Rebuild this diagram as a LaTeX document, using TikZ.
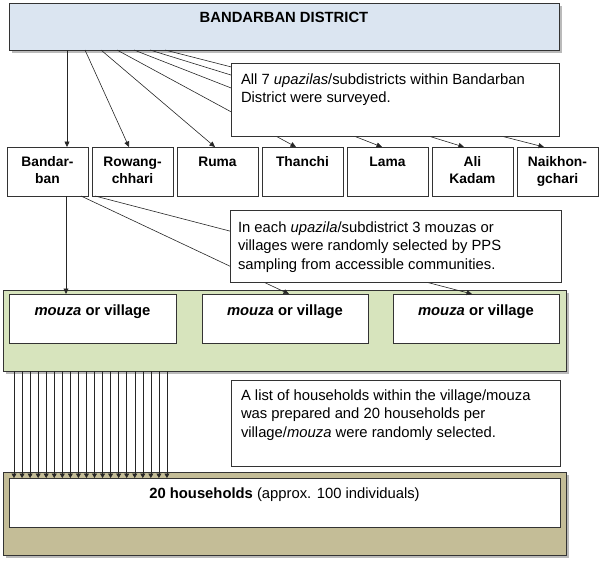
\documentclass[tikz,border=0pt]{standalone}
\usepackage{fontspec}
\setmainfont{Liberation Sans}
\usetikzlibrary{arrows.meta,calc,shadows}
\definecolor{topblue}{HTML}{DBE5F1}
\definecolor{bandgreen}{HTML}{D7E4BD}
\definecolor{bandtan}{HTML}{C4BD97}
\definecolor{edge}{HTML}{333333}
\begin{document}
\begin{tikzpicture}[x=1pt,y=-1pt,
  box/.style={draw=edge, line width=0.9pt, fill=white, anchor=north west, inner sep=0pt, outer sep=0pt},
  band/.style={box, drop shadow={shadow xshift=2.5pt, shadow yshift=-2.5pt, fill=black!45, opacity=0.6}},
  txt/.style={inner sep=0pt, outer sep=0pt, font=\fontsize{14.8}{18.8}\selectfont, align=left, anchor=base west},
  ctr/.style={inner sep=0pt, outer sep=0pt, font=\fontsize{14.8}{18.8}\selectfont, anchor=base},
  up/.style={inner sep=0pt, outer sep=0pt, font=\fontsize{13.8}{17}\selectfont\bfseries, align=center, anchor=base},
  arr/.style={draw=black!85, line width=0.6pt, -{Triangle[length=5.5pt,width=5pt]}},
]
\useasboundingbox (0,0) rectangle (600,560);

% district
\node[band, fill=topblue, minimum width=550pt, minimum height=47pt] (dist) at (9,3) {};
\node[ctr, font=\fontsize{14.8}{18.8}\selectfont\bfseries] (distT) at ($(dist.north)+(0,19.3)$) {BANDARBAN DISTRICT};

% upazilas
\foreach \n/\t/\k [count=\i from 0] in {u1/{Bandar-\\ban}/1, u2/{Rowang-\\chhari}/1, u3/{Ruma}/0, u4/{Thanchi}/0, u5/{Lama}/0, u6/{Ali\\Kadam}/1, u7/{Naikhon-\\gchari}/1} {
  \node[box, minimum width=81pt, minimum height=49pt] (\n) at (7+85*\i,147) {};
  \node[up] (\n t) at ($(\n.north)+(0,19+17*\k)$) {\t};
}

% arrows district -> upazilas
\draw[arr] ($(dist.south west)+(58,0)$) -- ($(u1.north west)+(60,0)$);
\draw[arr] ($(dist.south west)+(76,0)$) -- ($(u2.north west)+(37,0)$);
\draw[arr] ($(dist.south west)+(92,0)$) -- ($(u3.north west)+(38,0)$);
\draw[arr] ($(dist.south west)+(108,0)$) -- ($(u4.north west)+(34,0)$);
\draw[arr] ($(dist.south west)+(125,0)$) -- ($(u5.north west)+(35,0)$);
\draw[arr] ($(dist.south west)+(141,0)$) -- ($(u6.north west)+(32,0)$);
\draw[arr] ($(dist.south west)+(156,0)$) -- ($(u7.north west)+(27,0)$);

% note 1
\node[box, minimum width=328pt, minimum height=73pt] (n1) at (231,63) {};
\node[txt] (n1t) at ($(n1.north west)+(10,21+18.8)$) {All 7 \textit{upazilas}/subdistricts within Bandarban\\District were surveyed.};

% green band with mouzas
\node[band, fill=bandgreen, minimum width=563pt, minimum height=81pt] (green) at (3,290) {};
\node[box, minimum width=167pt, minimum height=49pt] (m1) at (9,294) {};
\node[box, minimum width=166pt, minimum height=49pt] (m2) at (202,294) {};
\node[box, minimum width=166pt, minimum height=49pt] (m3) at (393,294) {};
\foreach \m in {m1,m2,m3} {
  \node[ctr] (\m t) at ($(\m.north)+(0,21)$) {\textbf{\textit{mouza}} \textbf{or village}};
}

% arrows upazila -> mouzas
\draw[arr] ($(u1.south west)+(59,0)$) -- ($(m1.north west)+(57,0)$);
\draw[arr] ($(u1.south west)+(74,0)$) -- ($(m2.north west)+(87,0)$);
\draw[arr] ($(u1.south west)+(88,0)$) -- ($(m3.north west)+(79,0)$);

% note 2
\node[box, minimum width=331pt, minimum height=72pt] (n2) at (230,210) {};
\node[txt] (n2t) at ($(n2.north west)+(8,22+37.6)$) {In each \textit{upazila}/subdistrict 3 mouzas or\\villages were randomly selected by PPS\\sampling from accessible communities.};

% note 3
\node[box, minimum width=329pt, minimum height=86pt] (n3) at (231,380) {};
\node[txt] (n3t) at ($(n3.north west)+(10,20+37.6)$) {A list of households within the village/mouza\\was prepared and 20 households per\\village/\textit{mouza} were randomly selected.};

% tan band with households
\node[band, fill=bandtan, minimum width=563pt, minimum height=83pt] (tan) at (3,472) {};
\node[box, minimum width=551pt, minimum height=49pt] (hh) at (9,478) {};
\node[ctr] (hht) at ($(hh.north)+(0,20)$) {\textbf{20 households} (approx. 100 individuals)};

% household arrows
\foreach \i in {0,...,19} {
  \draw[arr, line width=0.5pt, -{Triangle[length=4.5pt,width=5pt]}] ($(green.south west)+(11+8.05*\i,0)$) -- ($(hh.north west)+(5+8.05*\i,0)$);
}
\end{tikzpicture}
\end{document}
